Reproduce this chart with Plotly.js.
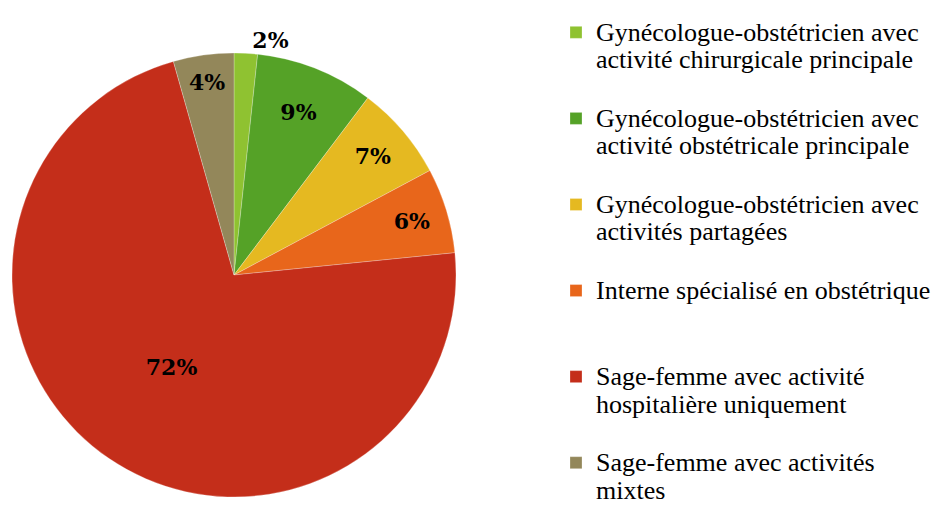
<!DOCTYPE html>
<html>
<head>
<meta charset="utf-8">
<script src="https://cdn.plot.ly/plotly-3.0.1.min.js"></script>
<style>
  html, body { margin: 0; padding: 0; background: #fff; }
  #chart { width: 942px; height: 511px; }
</style>
</head>
<body>
<div id="chart"></div>
<script>
// catégories et parts
const categories = [
    'Gynécologue-obstétricien avec<br>activité chirurgicale principale',
    'Gynécologue-obstétricien avec<br>activité obstétricale principale',
    'Gynécologue-obstétricien avec<br>activités partagées',
    'Interne spécialisé en obstétrique<br> ',
    'Sage-femme avec activité<br>hospitalière uniquement',
    'Sage-femme avec activités<br>mixtes'
];
const shares = [1.7, 8.6, 6.9, 6.2, 72.2, 4.4];
const sliceColors = ['#8fc231', '#55a227', '#e5b921', '#e8661b', '#c42e1a', '#93875a'];
const labelPositions = ['outside', 'inside', 'inside', 'inside', 'inside', 'inside'];

// texte un peu plus grand que l'interligne, + une ligne vide entre les entrées
const legendLabels = categories.map((c, i) => {
    let t = c.split('<br>').map(s => '<span style="font-size:26px">' + s + '</span>').join('<br>');
    return i < categories.length - 1 ? t + '<br> ' : t;
});

let data = [{
    type: 'pie',
    labels: legendLabels,
    values: shares,
    sort: false,
    direction: 'clockwise',
    rotation: 0,
    marker: { colors: sliceColors, line: { color: 'rgba(255,255,255,0.5)', width: 0.5 } },
    texttemplate: '%{percent:.0%}',
    textposition: labelPositions,
    insidetextorientation: 'horizontal',
    textfont: { family: '"DejaVu Serif", serif', size: 22, color: '#000', weight: 'bold' },
    hoverinfo: 'percent',
    domain: { x: [12 / 942, 456 / 942], y: [1 - 497 / 511, 1 - 53 / 511] }
}];

let layout = {
    width: 942,
    height: 511,
    margin: { l: 0, r: 0, t: 0, b: 0 },
    paper_bgcolor: '#fff',
    showlegend: true,
    legend: {
        x: 556 / 942,
        xanchor: 'left',
        y: 1 - 13 / 511,
        yanchor: 'top',
        valign: 'top',
        maxheight: 1000,
        font: { family: '"Liberation Serif", "Times New Roman", serif', size: 21.3, color: '#000' },
        bgcolor: 'rgba(0,0,0,0)'
    }
};

Plotly.newPlot('chart', data, layout, { displayModeBar: false });
</script>
</body>
</html>
